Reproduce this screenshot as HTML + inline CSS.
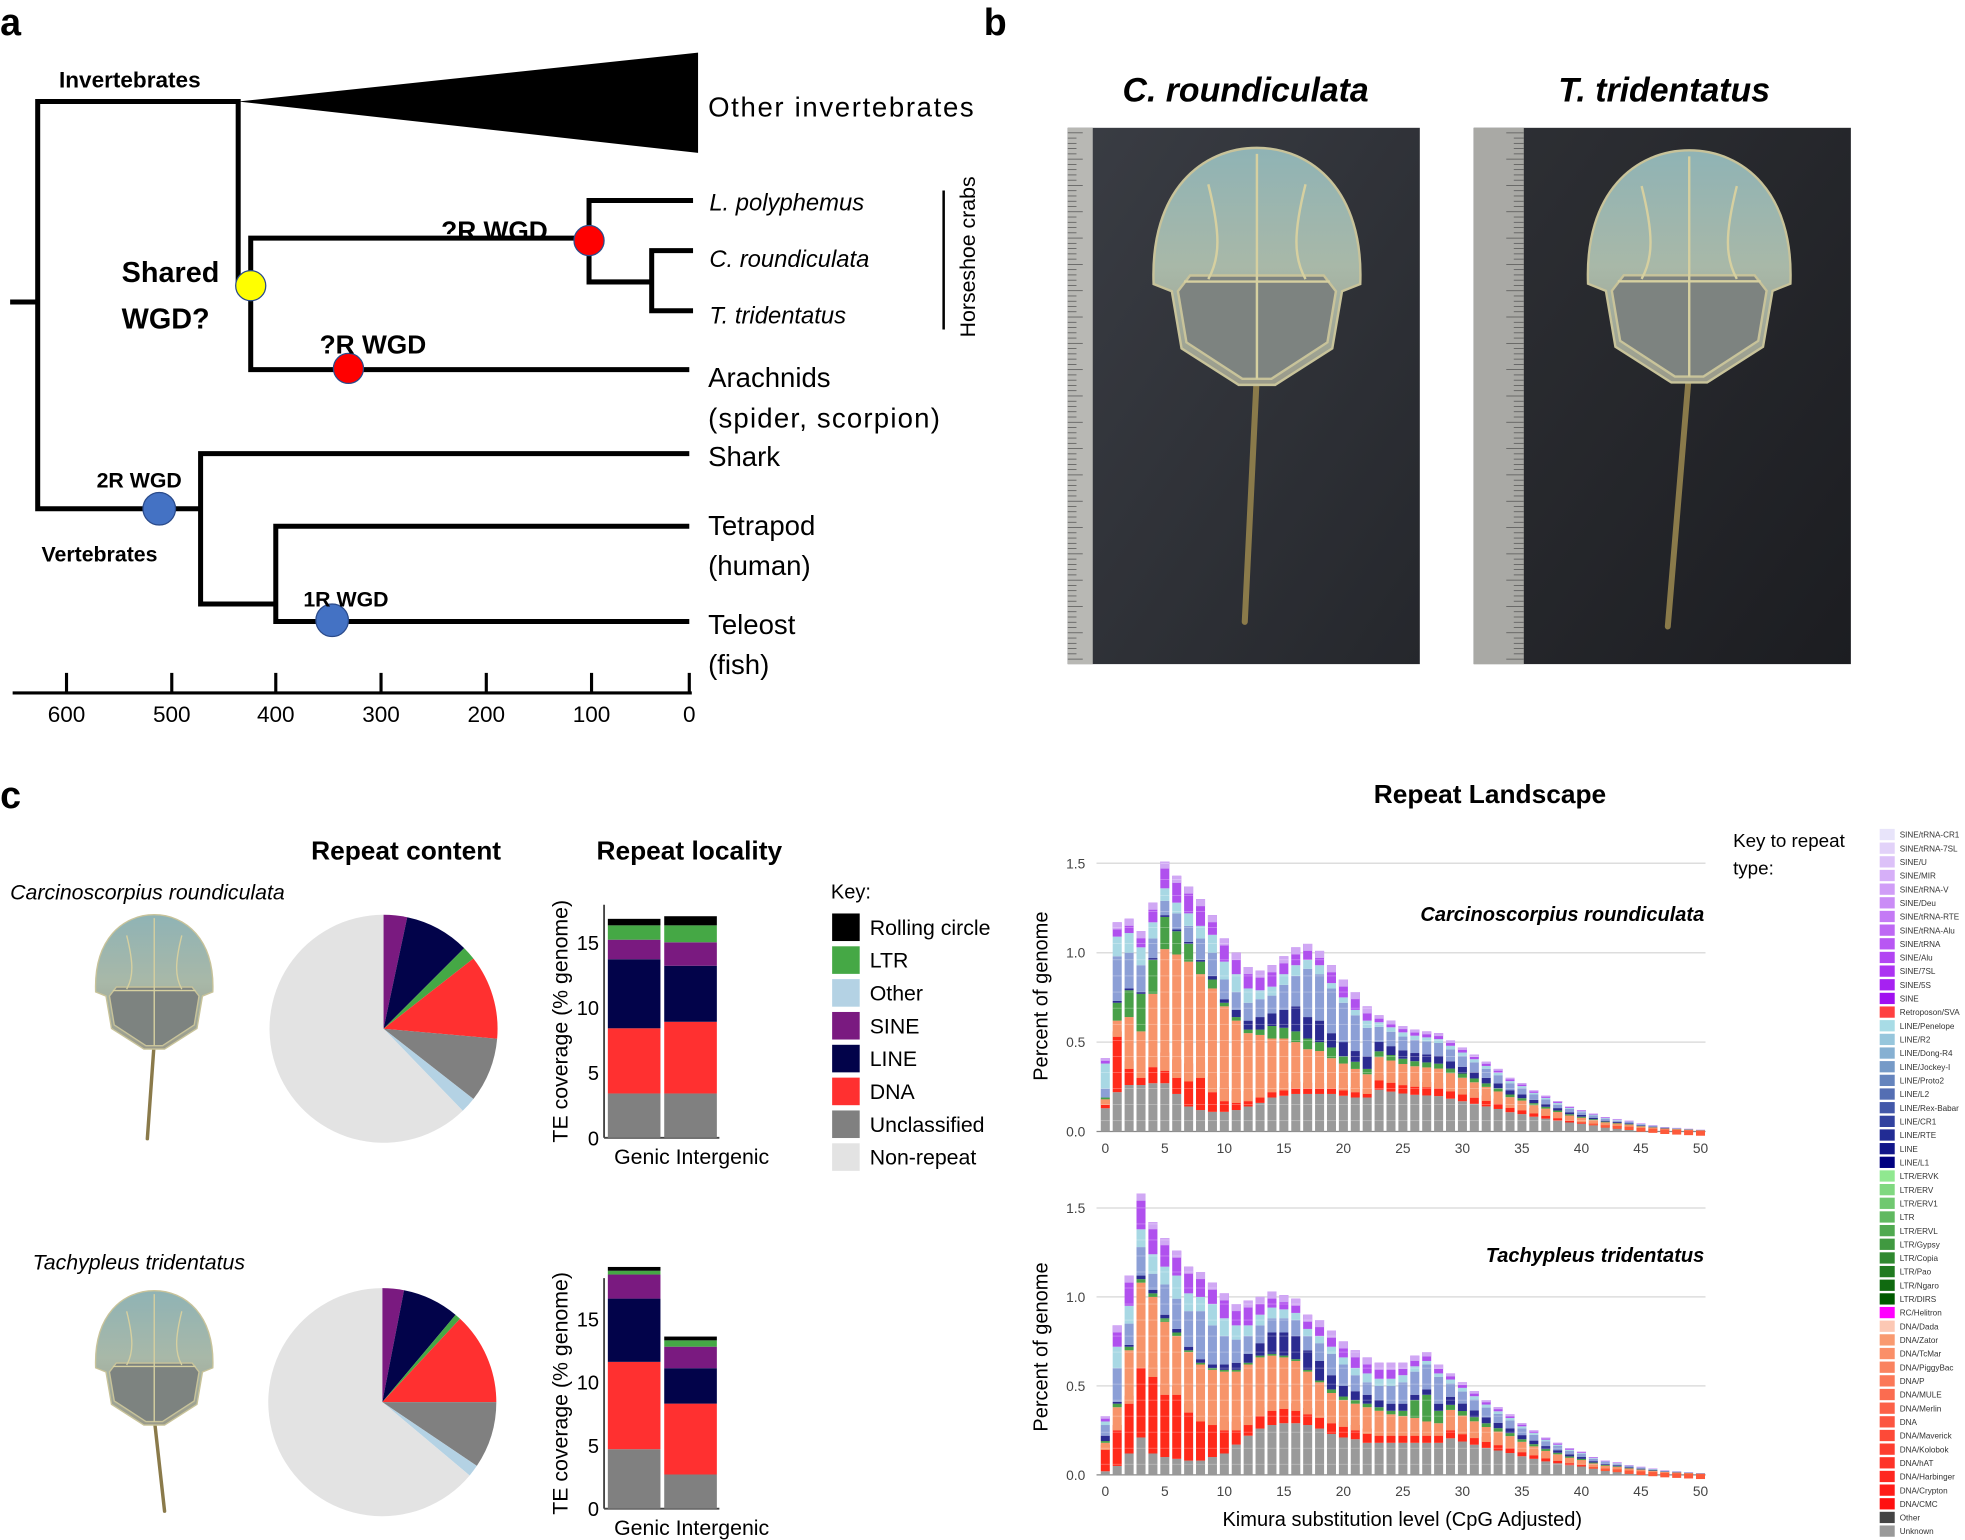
<!DOCTYPE html>
<html><head><meta charset="utf-8">
<style>
html,body{margin:0;padding:0;background:#fff;overflow:hidden;}
svg{display:block;font-family:"Liberation Sans",sans-serif;}
</style></head><body>
<svg id="s" width="1965" height="1540" viewBox="0 0 1568 1229" xmlns="http://www.w3.org/2000/svg">
<defs>
<linearGradient id="bg1" x1="0" y1="0" x2="1" y2="1"><stop offset="0" stop-color="#3a3d44"/><stop offset="1" stop-color="#25272c"/></linearGradient>
<linearGradient id="bg2" x1="0" y1="0" x2="1" y2="1"><stop offset="0" stop-color="#2e3035"/><stop offset="1" stop-color="#1c1d21"/></linearGradient>
<linearGradient id="cara" x1="0" y1="0" x2="0" y2="1"><stop offset="0" stop-color="#8fb3b5"/><stop offset="0.5" stop-color="#a8b8a8"/><stop offset="1" stop-color="#9a9a8a"/></linearGradient>
</defs>
<!-- Panel a -->
<text x="0" y="28" font-size="30" font-weight="bold">a</text>
<g stroke="#000" stroke-width="4" fill="none">
<path d="M8 241H30M30 79V408M28 81H192M190 79V230M200 188V297M198 190H472M470 158V227M468 160H553M468 225H522M520 198V250M518 200H553M518 248H553M198 295H550M28 406H162M160 360V484M158 362H550M158 482H222M220 418V498M218 420H550M218 496H550"/>
</g>
<path d="M190 81L557 42V122Z" fill="#000"/>
<g stroke="#2a4a8a" stroke-width="1">
<circle cx="200" cy="228" r="12" fill="#ffff00"/>
<circle cx="470" cy="192" r="12" fill="#ff0000"/>
<circle cx="278" cy="294" r="12" fill="#ff0000"/>
<circle cx="127" cy="406" r="13" fill="#4472c4"/>
<circle cx="265" cy="495" r="13" fill="#4472c4"/>
</g>
<g font-weight="bold">
<text x="47" y="70" font-size="18">Invertebrates</text>
<text x="97" y="225" font-size="23">Shared</text>
<text x="97" y="262" font-size="23">WGD?</text>
<text x="352" y="191" font-size="21">?R WGD</text>
<text x="255" y="282" font-size="21">?R WGD</text>
<text x="77" y="389" font-size="17">2R WGD</text>
<text x="33" y="448" font-size="17">Vertebrates</text>
<text x="242" y="484" font-size="17">1R WGD</text>
</g>
<g font-size="22">
<text x="565" y="93" textLength="212">Other invertebrates</text>
<text x="565" y="309">Arachnids</text>
<text x="565" y="341" textLength="185">(spider, scorpion)</text>
<text x="565" y="372">Shark</text>
<text x="565" y="427">Tetrapod</text>
<text x="565" y="459">(human)</text>
<text x="565" y="506">Teleost</text>
<text x="565" y="538">(fish)</text>
</g>
<g font-size="19" font-style="italic">
<text x="566" y="168">L. polyphemus</text>
<text x="566" y="213">C. roundiculata</text>
<text x="566" y="258">T. tridentatus</text>
</g>
<line x1="753" y1="152" x2="753" y2="263" stroke="#000" stroke-width="2"/>
<text transform="translate(778,205) rotate(-90)" text-anchor="middle" font-size="17">Horseshoe crabs</text>
<g stroke="#000" stroke-width="2.5">
<line x1="10" y1="553" x2="552" y2="553"/>
<line x1="53" y1="537" x2="53" y2="553"/><line x1="137" y1="537" x2="137" y2="553"/><line x1="220" y1="537" x2="220" y2="553"/><line x1="304" y1="537" x2="304" y2="553"/><line x1="388" y1="537" x2="388" y2="553"/><line x1="472" y1="537" x2="472" y2="553"/><line x1="550" y1="537" x2="550" y2="553"/>
</g>
<g font-size="18" text-anchor="middle">
<text x="53" y="576">600</text><text x="137" y="576">500</text><text x="220" y="576">400</text><text x="304" y="576">300</text><text x="388" y="576">200</text><text x="472" y="576">100</text><text x="550" y="576">0</text>
</g>
<!-- Panel b -->
<text x="785" y="28" font-size="30" font-weight="bold">b</text>
<g font-size="27" font-weight="bold" font-style="italic" text-anchor="middle">
<text x="994" y="81">C. roundiculata</text>
<text x="1328" y="81">T. tridentatus</text>
</g>
<rect x="852" y="102" width="281" height="428" fill="url(#bg1)"/>
<rect x="852" y="102" width="20" height="428" fill="#b8b8b4"/>
<rect x="1176" y="102" width="301" height="428" fill="url(#bg2)"/>
<rect x="1176" y="102" width="40" height="428" fill="#a9a9a5"/>
<g id="ticks"></g>
<g id="crabs"></g>
<!-- Panel c -->
<text x="0" y="645" font-size="30" font-weight="bold">c</text>
<g font-size="21" font-weight="bold" text-anchor="middle">
<text x="324" y="686">Repeat content</text>
<text x="550" y="686">Repeat locality</text>
<text x="1189" y="641">Repeat Landscape</text>
</g>
<g font-size="17" font-style="italic">
<text x="8" y="718">Carcinoscorpius roundiculata</text>
<text x="26" y="1013">Tachypleus tridentatus</text>
</g>
<g id="pies"></g>
<g id="bars"></g>
<text x="663" y="717" font-size="16">Key:</text>
<g id="key"></g>
<g id="land"></g>
<text x="1383" y="676" font-size="15">Key to repeat</text>
<text x="1383" y="698" font-size="15">type:</text>
<g id="leg"></g>
</svg>
<script>
const NS="http://www.w3.org/2000/svg";
function el(par,tag,attrs,txt){const e=document.createElementNS(NS,tag);for(const k in attrs)e.setAttribute(k,attrs[k]);if(txt!==undefined)e.textContent=txt;document.getElementById(par).appendChild(e);return e;}
for(let y=106;y<528;y+=4.2){el('ticks','line',{x1:852,x2:852+((Math.round((y-106)/4.2)%5==0)?12:7),y1:y,y2:y,stroke:'#555','stroke-width':0.6});}
for(let y=106;y<528;y+=4.2){el('ticks','line',{x1:1216,x2:1216-((Math.round((y-106)/4.2)%5==0)?14:8),y1:y,y2:y,stroke:'#555','stroke-width':0.6});}
function crab(cx,top,sc,tail,tailAng){
  const g=document.createElementNS(NS,'g');g.setAttribute('transform',`translate(${cx},${top}) scale(${sc})`);
  document.getElementById('crabs').appendChild(g);
  const t=document.createElementNS(NS,'line');
  t.setAttribute('x1',0);t.setAttribute('y1',185);t.setAttribute('x2',tailAng);t.setAttribute('y2',185+tail);
  t.setAttribute('stroke','#8a7a4a');t.setAttribute('stroke-width',5);t.setAttribute('stroke-linecap','round');g.appendChild(t);
  const p=document.createElementNS(NS,'path');
  p.setAttribute('d','M-85,112 C-88,35 -45,0 0,0 C45,0 88,35 85,112 L70,118 L62,165 L15,195 L-15,195 L-62,165 L-70,118 Z');
  p.setAttribute('fill','url(#cara)');p.setAttribute('stroke','#c8c39a');p.setAttribute('stroke-width',2);g.appendChild(p);
  const q=document.createElementNS(NS,'path');
  q.setAttribute('d','M-65,118 L-55,105 L55,105 L65,118 L58,160 L12,190 L-12,190 L-58,160 Z');
  q.setAttribute('fill','#7d8380');q.setAttribute('stroke','#c8c39a');q.setAttribute('stroke-width',2);g.appendChild(q);
  const r=document.createElementNS(NS,'path');
  r.setAttribute('d','M0,5 V190 M-40,30 C-30,70 -30,90 -40,108 M40,30 C30,70 30,90 40,108 M-60,110 H60');
  r.setAttribute('stroke','#d6d0a0');r.setAttribute('stroke-width',2);r.setAttribute('fill','none');g.appendChild(r);
}
crab(1003,118,0.97,205,-10);
crab(1348,120,0.95,215,-18);
crab(123,730,0.55,140,-10);
crab(123,1030,0.55,135,15);
function pie(cx,cy,r,sl){
  let a0=0;
  sl.forEach(([a1,c])=>{
    const p=(a)=>[cx+r*Math.sin(a*Math.PI/180),cy-r*Math.cos(a*Math.PI/180)];
    const [x0,y0]=p(a0),[x1,y1]=p(a1);
    el('pies','path',{d:`M${cx},${cy}L${x0},${y0}A${r},${r} 0 ${a1-a0>180?1:0} 1 ${x1},${y1}Z`,fill:c});
    a0=a1;
  });
}
const C={sine:'#7a1a80',line:'#02034a',ltr:'#45a845',dna:'#ff3030',unc:'#808080',oth:'#b4d2e4',non:'#e3e3e3',rc:'#000'};
pie(306,821,91,[[12,C.sine],[45,C.line],[52,C.ltr],[95,C.dna],[128,C.unc],[136,C.oth],[360,C.non]]);
pie(305,1119,91,[[11,C.sine],[40,C.line],[43,C.ltr],[90,C.dna],[124,C.unc],[130,C.oth],[360,C.non]]);
function barplot(base,unit,top,stacks,ticks,lblY){
  el('bars','line',{x1:482,x2:482,y1:top,y2:base,stroke:'#444','stroke-width':1.5});
  el('bars','line',{x1:482,x2:574,y1:base,y2:base,stroke:'#444','stroke-width':1.5});
  ticks.forEach(t=>el('bars','text',{x:478,y:base-t*unit+6,'text-anchor':'end','font-size':16},t));
  stacks.forEach((st,j)=>{
    const x=485+j*45;let prev=0;
    st.forEach(([v,c])=>{el('bars','rect',{x:x,y:base-v*unit,width:42,height:(v-prev)*unit,fill:c});prev=v;});
  });
  el('bars','text',{x:490,y:lblY,'font-size':17},'Genic Intergenic');
  el('bars','text',{transform:`translate(453,${(base+top)/2}) rotate(-90)`,'text-anchor':'middle','font-size':17},'TE coverage (% genome)');
}
barplot(908,10.4,722,[
 [[3.4,C.unc],[8.4,C.dna],[13.7,C.line],[15.2,C.sine],[16.3,C.ltr],[16.8,C.rc]],
 [[3.4,C.unc],[8.9,C.dna],[13.2,C.line],[15.0,C.sine],[16.3,C.ltr],[17.0,C.rc]]],[0,5,10,15],929);
barplot(1204,10.1,1020,[
 [[4.7,C.unc],[11.6,C.dna],[16.6,C.line],[18.5,C.sine],[18.8,C.ltr],[19.1,C.rc]],
 [[2.7,C.unc],[8.3,C.dna],[11.1,C.line],[12.8,C.sine],[13.3,C.ltr],[13.6,C.rc]]],[0,5,10,15],1225);
[['Rolling circle',C.rc],['LTR',C.ltr],['Other',C.oth],['SINE',C.sine],['LINE',C.line],['DNA',C.dna],['Unclassified',C.unc],['Non-repeat',C.non]].forEach(([t,c],i)=>{
  const y=740+i*26.2;
  el('key','rect',{x:664,y:y-11,width:22,height:22,fill:c});
  el('key','text',{x:694,y:y+6,'font-size':17},t);
});
const T1=[.41,1.17,1.19,1.12,1.28,1.51,1.43,1.37,1.30,1.21,1.08,1.00,.92,.90,.93,.98,1.03,1.05,1.01,.93,.85,.78,.70,.65,.62,.59,.57,.56,.55,.51,.47,.43,.39,.35,.30,.27,.23,.20,.17,.14,.12,.10,.08,.07,.06,.045,.035,.025,.02,.015,.01];
const E1=[[.13,.15,.18,.19,.19,.24,.38],[.22,.53,.62,.72,.73,.98,1.09],[.26,.35,.64,.79,.80,1.0,1.11],[.26,.30,.56,.77,.78,.93,1.03],[.27,.36,.77,.96,.97,1.08,1.17],[.27,.34,1.02,1.20,1.21,1.29,1.36],[.21,.30,.99,1.12,1.13,1.22,1.28],[.14,.28,.95,1.05,1.06,1.15,1.22],[.12,.30,.88,.95,.96,1.08,1.15],[.11,.22,.80,.85,.87,1.00,1.10],[.11,.17,.70,.72,.74,.85,.95],[.12,.16,.62,.64,.68,.78,.88],[.14,.17,.55,.57,.62,.72,.80],[.16,.19,.54,.57,.64,.74,.79],[.19,.22,.52,.59,.66,.76,.81],[.20,.23,.52,.58,.68,.82,.88],[.21,.24,.50,.56,.70,.87,.93],[.21,.24,.46,.52,.64,.91,.96],[.21,.24,.45,.50,.62,.88,.93],[.21,.24,.41,.47,.55,.80,.83],[.20,.23,.38,.42,.50,.72,.75],[.19,.22,.35,.39,.45,.65,.68],[.19,.21,.32,.35,.42,.58,.62]];
const T2=[.33,.84,1.12,1.58,1.42,1.33,1.26,1.17,1.14,1.08,1.02,.96,.98,1.0,1.03,1.01,.99,.9,.87,.81,.75,.70,.66,.63,.63,.63,.67,.69,.62,.57,.52,.47,.42,.38,.34,.29,.25,.21,.18,.15,.13,.1,.08,.07,.055,.045,.035,.025,.02,.015,.01];
const E2=[[.02,.14,.18,.19,.22,.28,.30],[.05,.25,.38,.40,.41,.60,.72],[.12,.40,.70,.72,.73,.85,.95],[.21,.60,1.08,1.10,1.12,1.28,1.38],[.12,.55,1.0,1.02,1.04,1.13,1.24],[.10,.45,.86,.88,.90,1.07,1.17],[.09,.45,.78,.80,.82,.99,1.12],[.08,.35,.69,.70,.72,.92,1.02],[.08,.30,.62,.63,.65,.92,1.00],[.10,.28,.59,.60,.62,.84,.96],[.12,.25,.58,.59,.62,.78,.88],[.17,.25,.58,.59,.63,.76,.84],[.22,.28,.62,.63,.68,.78,.84],[.26,.33,.66,.67,.74,.84,.90],[.28,.36,.67,.68,.80,.88,.94],[.29,.37,.66,.67,.80,.88,.93],[.29,.36,.64,.65,.78,.87,.91],[.28,.34,.58,.59,.70,.78,.82],[.26,.32,.52,.53,.64,.74,.78],[.23,.29,.46,.48,.56,.68,.72],[.21,.27,.42,.44,.50,.62,.66],[.20,.25,.40,.42,.47,.56,.60],[.18,.23,.38,.40,.45,.52,.57],[.18,.22,.36,.38,.42,.50,.54],[.18,.22,.34,.36,.40,.50,.54],[.18,.22,.33,.36,.40,.52,.56],[.18,.22,.32,.42,.45,.58,.61],[.18,.22,.30,.45,.48,.62,.64],[.18,.22,.29,.36,.40,.55,.57]];
const FR=[.36,.44,.64,.69,.77,.9,.94];
const LC=['#9a9a9a','#ff2a1a','#f7946a','#48a048','#2b2b90','#8c9fd6','#a8d8e4','#b050ee'];
function land(base,unit,T,E,species,spY,ylabY,xlabY){
  [0,.5,1,1.5].forEach(v=>{
    const y=base-v*unit;
    el('land','line',{x1:875,x2:1361,y1:y,y2:y,stroke:v==0?'#888':'#ddd','stroke-width':v==0?1:1.2});
    el('land','text',{x:866,y:y+4,'text-anchor':'end','font-size':11,fill:'#444'},v.toFixed(1));
  });
  for(let k=0;k<=50;k+=5)el('land','text',{x:882+9.5*k,y:xlabY,'text-anchor':'middle','font-size':11,fill:'#444'},k);
  for(let i=0;i<51;i++){
    const t=T[i];let cum=E[i]?E[i].concat([t]):FR.map(f=>f*t).concat([t]);
    let prev=0;const x=882+9.5*i-3.6;
    cum.forEach((v,j)=>{
      if(v>prev){el('land','rect',{x:x,y:base-v*unit,width:7.2,height:(v-prev)*unit,fill:LC[j]});}
      if(j==1&&cum[2]>v){el('land','rect',{x:x,y:base-Math.min(cum[2],v+Math.max(.03,(cum[2]-v)*.15))*unit,width:7.2,height:Math.max(.03,(cum[2]-v)*.15)*unit,fill:'#fd5a3a'});}
      prev=Math.max(prev,v);
    });
    const lp=Math.min(.04,(t-cum[6])*.5);
    el('land','rect',{x:x,y:base-t*unit,width:7.2,height:lp*unit,fill:'#d0a8f4'});
    for(let v=0.06;v<t;v+=0.09){el('land','line',{x1:x,x2:x+7.2,y1:base-v*unit,y2:base-v*unit,stroke:'#fff','stroke-width':0.35,opacity:0.6});}
  }
  el('land','text',{x:1360,y:spY,'text-anchor':'end','font-size':16,'font-weight':'bold','font-style':'italic'},species);
  el('land','text',{transform:`translate(836,${ylabY}) rotate(-90)`,'text-anchor':'middle','font-size':16},'Percent of genome');
}
land(903,142.7,T1,E1,'Carcinoscorpius roundiculata',735,795,920);
land(1177,142,T2,E2,'Tachypleus tridentatus',1007,1075,1194);
el('land','text',{x:1119,y:1218,'text-anchor':'middle','font-size':16},'Kimura substitution level (CpG Adjusted)');
const names=['SINE/tRNA-CR1','SINE/tRNA-7SL','SINE/U','SINE/MIR','SINE/tRNA-V','SINE/Deu','SINE/tRNA-RTE','SINE/tRNA-Alu','SINE/tRNA','SINE/Alu','SINE/7SL','SINE/5S','SINE','Retroposon/SVA','LINE/Penelope','LINE/R2','LINE/Dong-R4','LINE/Jockey-I','LINE/Proto2','LINE/L2','LINE/Rex-Babar','LINE/CR1','LINE/RTE','LINE','LINE/L1','LTR/ERVK','LTR/ERV','LTR/ERV1','LTR','LTR/ERVL','LTR/Gypsy','LTR/Copia','LTR/Pao','LTR/Ngaro','LTR/DIRS','RC/Helitron','DNA/Dada','DNA/Zator','DNA/TcMar','DNA/PiggyBac','DNA/P','DNA/MULE','DNA/Merlin','DNA','DNA/Maverick','DNA/Kolobok','DNA/hAT','DNA/Harbinger','DNA/Crypton','DNA/CMC','Other','Unknown'];
function lerp(a,b,t){const h=s=>[1,3,5].map(i=>parseInt(s.substr(i,2),16));const A=h(a),B=h(b);return 'rgb('+A.map((v,i)=>Math.round(v+(B[i]-v)*t)).join(',')+')';}
names.forEach((n,i)=>{
  let c;
  if(i<13)c=lerp('#e8e4fa','#a010f0',i/12);
  else if(i==13)c='#ff4040';
  else if(i<25)c=lerp('#a8dce6','#000080',(i-14)/10);
  else if(i<35)c=lerp('#90e890','#005a00',(i-25)/9);
  else if(i==35)c='#ff00ff';
  else if(i<50)c=i==36?'#fcc8b4':lerp('#f99a70','#ff1010',(i-37)/12);
  else if(i==50)c='#444';else c='#999';
  const y=666+i*10.9;
  el('leg','rect',{x:1500,y:y-4.5,width:12,height:9,fill:c});
  el('leg','text',{x:1516,y:y+2.5,'font-size':6.5,fill:'#333'},n);
});
</script>
</body></html>
